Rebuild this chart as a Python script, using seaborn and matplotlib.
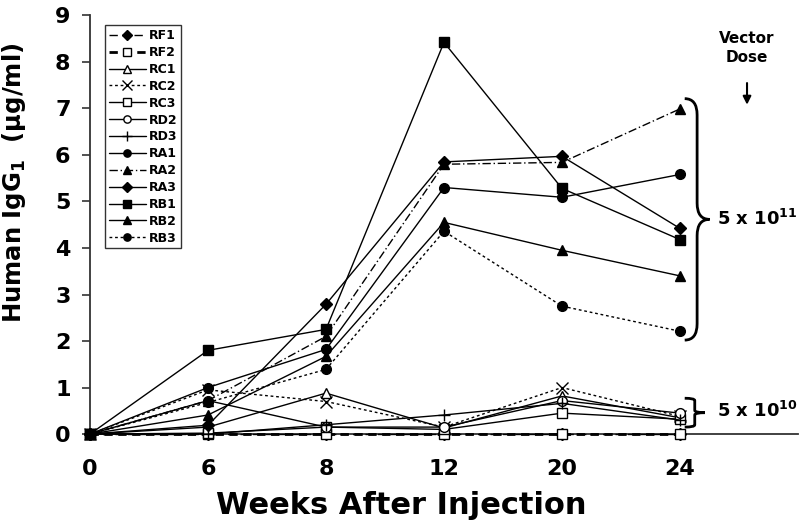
import numpy as np
import pandas as pd
import matplotlib
matplotlib.use("Agg")
import matplotlib.pyplot as plt
from matplotlib.path import Path
from matplotlib.patches import PathPatch
import seaborn as sns

# 採血週(等間隔のカテゴリとして描く)
weeks = ["0", "6", "8", "12", "20", "24"]

# 各個体のヒトIgG1濃度 (μg/ml)
RF1 = [0.0, 0.0, 0.0, 0.0, 0.0, 0.0]
RF2 = [0.0, 0.0, 0.0, 0.0, 0.0, 0.0]
RC1 = [0.0, 0.15, 0.88, 0.13, 0.82, 0.35]
RC2 = [0.0, 0.95, 0.70, 0.15, 1.00, 0.38]
RC3 = [0.0, 0.02, 0.15, 0.10, 0.45, 0.32]
RD2 = [0.0, 0.72, 0.15, 0.15, 0.72, 0.45]
RD3 = [0.0, 0.0, 0.20, 0.41, 0.66, 0.30]
RA1 = [0.0, 1.00, 1.82, 5.30, 5.09, 5.58]
RA2 = [0.0, 0.72, 2.10, 5.80, 5.84, 6.99]
RA3 = [0.0, 0.19, 2.79, 5.85, 5.97, 4.42]
RB1 = [0.0, 1.80, 2.25, 8.42, 5.28, 4.18]
RB2 = [0.0, 0.41, 1.67, 4.55, 3.95, 3.40]
RB3 = [0.0, 0.68, 1.39, 4.36, 2.75, 2.21]

series_names = ["RF1", "RF2", "RC1", "RC2", "RC3", "RD2", "RD3",
                "RA1", "RA2", "RA3", "RB1", "RB2", "RB3"]
series_values = [RF1, RF2, RC1, RC2, RC3, RD2, RD3,
                 RA1, RA2, RA3, RB1, RB2, RB3]

# 線種・マーカー(白抜き=低用量, 塗り=高用量)
styles = {
    "RF1": dict(ls=(0, (6, 3)), marker="D", fill=True, lw=1.0),
    "RF2": dict(ls=(0, (3, 2)), marker="s", fill=False, lw=2.0),
    "RC1": dict(ls="-", marker="^", fill=False, lw=1.0),
    "RC2": dict(ls=(0, (2, 2)), marker="x", fill=False, lw=1.0),
    "RC3": dict(ls="-", marker="s", fill=False, lw=1.0),
    "RD2": dict(ls="-", marker="o", fill=False, lw=1.0),
    "RD3": dict(ls="-", marker="+", fill=False, lw=1.0),
    "RA1": dict(ls="-", marker="o", fill=True, lw=1.0),
    "RA2": dict(ls=(0, (6, 2, 1, 2)), marker="^", fill=True, lw=1.0),
    "RA3": dict(ls="-", marker="D", fill=True, lw=1.0),
    "RB1": dict(ls="-", marker="s", fill=True, lw=1.0),
    "RB2": dict(ls="-", marker="^", fill=True, lw=1.0),
    "RB3": dict(ls=(0, (2, 2)), marker="o", fill=True, lw=1.0),
}

rows = []
for name, vals in zip(series_names, series_values):
    for i, (w, v) in enumerate(zip(weeks, vals)):
        rows.append({"animal": name, "pos": i, "week": w, "igg": v})
df = pd.DataFrame(rows)

sns.set_style("ticks")
plt.rcParams["font.family"] = ["DejaVu Sans"]
plt.rcParams["font.weight"] = "bold"
plt.rcParams["mathtext.default"] = "regular"
plt.rcParams["text.color"] = "black"
plt.rcParams["axes.labelcolor"] = "black"
plt.rcParams["xtick.color"] = "black"
plt.rcParams["ytick.color"] = "black"

fig = plt.figure(figsize=(8, 5.3), dpi=100)
ax = fig.add_axes([0.1125, 0.181, 0.885, 0.79])

for name in series_names:
    st = styles[name]
    g = df[df["animal"] == name]
    ms = 6.5 if st["marker"] in ("D",) else 7
    if st["marker"] in ("x", "+"):
        ms = 9
    sns.lineplot(data=g, x="pos", y="igg", ax=ax, color="black",
                 linestyle=st["ls"], linewidth=st["lw"],
                 marker=st["marker"], markersize=ms,
                 markerfacecolor="black" if st["fill"] else "white",
                 markeredgecolor="black", markeredgewidth=1.0,
                 label=name, clip_on=False, zorder=3)

ax.set_xlim(0, 6)
ax.set_ylim(0, 9)
ax.set_xticks(range(len(weeks)))
ax.set_xticklabels(weeks)
ax.set_yticks(range(0, 10))
ax.tick_params(axis="y", labelsize=16, width=1.2, length=6, color="#333333", pad=8)
ax.tick_params(axis="x", labelsize=16, width=1.0, length=4, color="#333333", pad=14)
for lab in ax.get_xticklabels() + ax.get_yticklabels():
    lab.set_fontweight("bold")
sns.despine(ax=ax)
for sp in ("left", "bottom"):
    ax.spines[sp].set_linewidth(1.3)
    ax.spines[sp].set_color("#333333")

ax.set_xlabel("Weeks After Injection", fontsize=22, fontweight="bold")
ax.set_ylabel(r"Human IgG$_\mathbf{1}$  (µg/ml)", fontsize=17.5, fontweight="bold")
ax.xaxis.set_label_coords(0.44, -0.135)
ax.yaxis.set_label_coords(-0.088, 0.6)

leg = ax.legend(loc="upper left", bbox_to_anchor=(0.021, 0.976), frameon=True,
                fancybox=False, edgecolor="black", fontsize=9, markerscale=0.75,
                handlelength=3.0, handletextpad=0.2, labelspacing=0.31,
                borderpad=0.3, borderaxespad=0)
leg.get_frame().set_linewidth(1.0)
for t in leg.get_texts():
    t.set_fontweight("bold")


def brace(ax, x0, x1, y0, y1, lw=2.0):
    # 右向きの波括弧 (データ座標)
    ym = (y0 + y1) / 2
    xm = (x0 + x1) / 2
    h = y1 - y0
    c = min(0.08 * h, 0.35)
    verts = [(x0, y1), (xm, y1), (xm, y1 - c), (xm, y1 - c),
             (xm, ym + c), (xm, ym), (x1, ym),
             (xm, ym), (xm, ym - c), (xm, ym - c),
             (xm, y0 + c), (xm, y0), (x0, y0)]
    codes = [Path.MOVETO, Path.CURVE3, Path.CURVE3, Path.LINETO,
             Path.LINETO, Path.CURVE3, Path.CURVE3,
             Path.CURVE3, Path.CURVE3, Path.LINETO,
             Path.LINETO, Path.CURVE3, Path.CURVE3]
    ax.add_patch(PathPatch(Path(verts, codes), fill=False, lw=lw,
                           edgecolor="black", clip_on=False))


brace(ax, 5.04, 5.25, 2.02, 7.21)
brace(ax, 5.04, 5.21, 0.15, 0.77)
ax.text(5.31, 4.62, r"5 x 10$^{11}$", fontsize=13, fontweight="bold", va="center", ha="left")
ax.text(5.31, 0.49, r"5 x 10$^{10}$", fontsize=13, fontweight="bold", va="center", ha="left")

ax.text(0.928, 0.962, "Vector\nDose", transform=ax.transAxes, fontsize=11,
        fontweight="bold", ha="center", va="top", linespacing=1.3)
ax.annotate("", xy=(0.928, 0.78), xytext=(0.928, 0.845), xycoords="axes fraction",
            arrowprops=dict(arrowstyle="-|>", color="black", lw=1.5, mutation_scale=12))

fig.savefig("out.png", dpi=100)
